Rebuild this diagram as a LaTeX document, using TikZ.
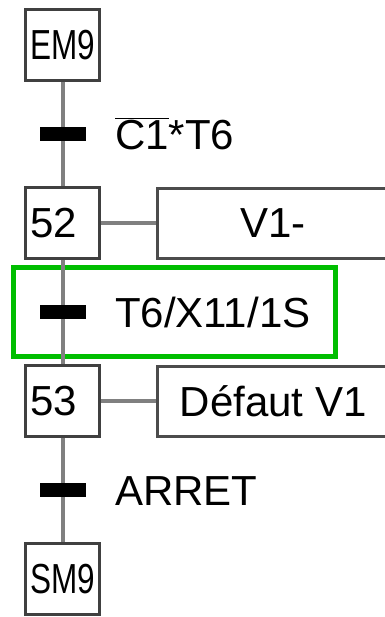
\documentclass[tikz,border=0pt]{standalone}
\usepackage{fontspec}
\setmainfont{Liberation Sans}
\usepackage{graphicx}
\usetikzlibrary{calc, fit, positioning}
\definecolor{linkgray}{RGB}{128,128,128}
\definecolor{grafgreen}{RGB}{0,190,0}
\tikzstyle{link} = [draw=linkgray, line width=3pt]
\tikzstyle{stepbox} = [draw=black!75, line width=2.25pt, minimum width=55.5pt, minimum height=53pt, inner sep=0pt]
\tikzstyle{bar} = [fill=black, minimum width=34.5pt, minimum height=10.5pt, inner sep=0pt]

\begin{document}
\begin{tikzpicture}
    [
        x=0.75pt, y=0.75pt,
        node distance=133.5pt,
        font=\fontsize{31.5}{36}\selectfont,
        numbox/.style={stepbox, text width=48pt, align=left},
        action/.style={draw=black!70, line width=2.25pt, minimum width=173.25pt, minimum height=52.5pt, inner sep=0pt},
        cond/.style={anchor=west, inner sep=0pt, text height=22.5pt, text depth=0pt},
        greenframe/.style={draw=grafgreen, line width=3.75pt, inner xsep=19pt, inner ysep=21.75pt}
    ]
    \clip (0,0) rectangle (385,-617);

    % steps
    \node[stepbox] (em9) at (62.5,-45) {\scalebox{0.75}[1]{EM9}};
    \node[numbox, below of=em9] (s52) {52};
    \node[numbox, below of=s52] (s53) {53};
    \node[stepbox, below of=s53] (sm9) {\scalebox{0.75}[1]{SM9}};

    % actions
    \node[action, right of=s52, node distance=158pt] (a52) {V1-};
    \node[action, right of=s53, node distance=158pt] (a53) {Défaut V1};

    % transitions
    \node[bar, below of=em9, node distance=66.75pt] (t1) {};
    \node[bar, below of=s52, node distance=66.75pt] (t2) {};
    \node[bar, below of=s53, node distance=66.75pt] (t3) {};

    \node[cond] (c1) at ($(t1.east)+(29,0)$) {$\overline{\mbox{C1}}$*T6};
    \node[cond] (c2) at ($(t2.east)+(29,0)$) {T6/X11/1S};
    \node[cond] (c3) at ($(t3.east)+(29,0)$) {ARRET};

    \node[greenframe, fit=(t2)(c2)] (sel) {};

    \draw[link] (em9) -- (t1) -- (s52) -- (t2) -- (s53) -- (t3) -- (sm9);
    \draw[link] (s52) -- (a52);
    \draw[link] (s53) -- (a53);

\end{tikzpicture}
\end{document}
